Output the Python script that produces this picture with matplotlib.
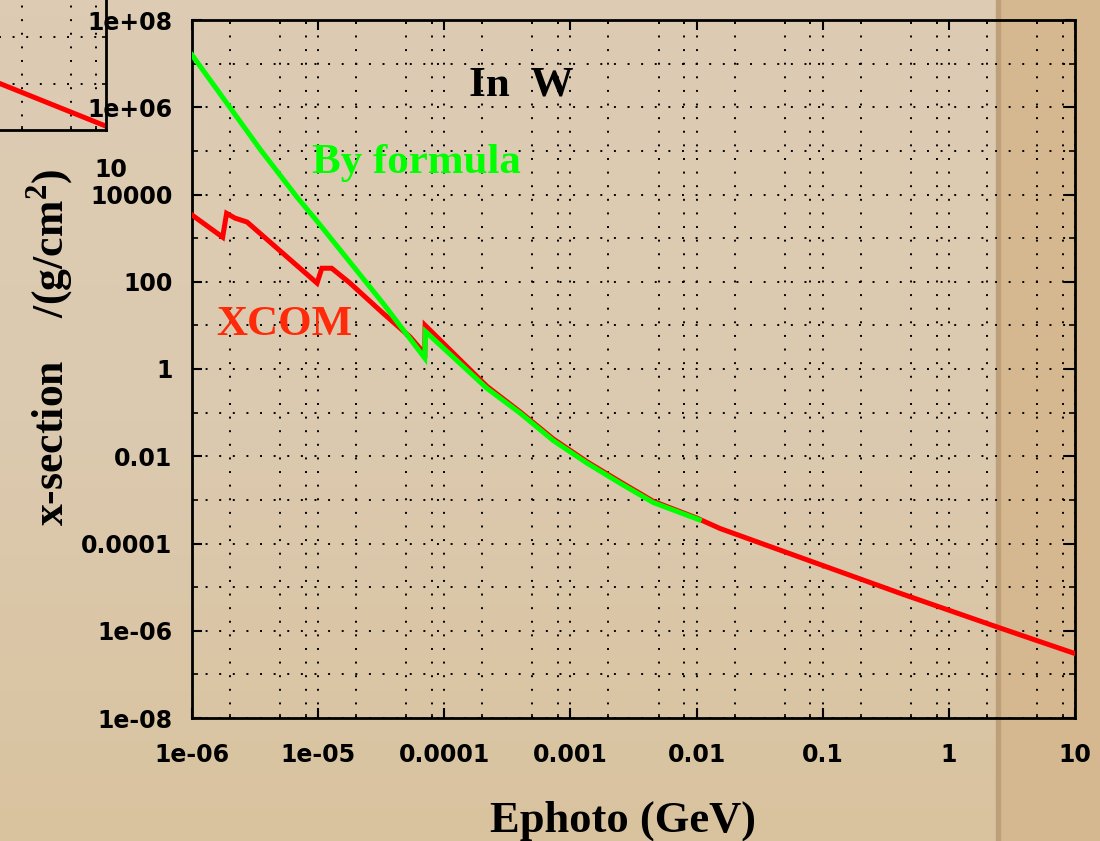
import numpy as np
import matplotlib.pyplot as plt
from matplotlib.patches import Rectangle
from matplotlib.colors import LinearSegmentedColormap
from matplotlib.ticker import FixedLocator, LogLocator, NullFormatter

plt.rcParams['mathtext.fontset'] = 'custom'
plt.rcParams['mathtext.bf'] = 'Liberation Serif:bold'
plt.rcParams['mathtext.rm'] = 'Liberation Serif:bold'

# XCOM photo-absorption cross-section in W (GeV, cm2/g)
xcom_e = [1.0e-6, 1.75e-6, 1.88e-6, 2.19e-6, 2.73e-6, 9.8e-6, 1.07e-5, 1.28e-5,
          1.79e-5, 3.27e-5, 5.37e-5, 6.8e-5, 7.0e-5, 7.05e-5, 2.18e-4, 3.98e-4,
          7.3e-4, 1.36e-3, 2.48e-3, 4.53e-3, 1.01e-2, 1.54e-2, 6.64e-2, 0.412,
          2.56, 10.0]
xcom_mu = [3390, 1050, 3700, 2880, 2340, 93, 204, 204,
           93, 19, 5.4, 2.45, 1.78, 10.0, 0.40, 0.105,
           0.025, 0.0074, 0.0026, 9.3e-4, 3.8e-4, 2.2e-4, 4.8e-5, 7.2e-6,
           1.15e-6, 3.0e-7]

# same thing from the formula
formula_e = [1.0e-6, 3.5e-6, 6.8e-6, 9.8e-6, 3.27e-5, 7.0e-5, 7.1e-5, 2.18e-4,
             3.98e-4, 7.3e-4, 1.36e-3, 2.48e-3, 4.53e-3, 1.05e-2]
formula_mu = [1.58e7, 1.05e5, 8700, 2450, 32, 1.78, 7.2, 0.36,
              0.098, 0.023, 0.0069, 0.0024, 8.7e-4, 3.5e-4]

xtick_vals = [1e-6, 1e-5, 1e-4, 1e-3, 1e-2, 1e-1, 1, 10]
xtick_labels = ["1e-06", "1e-05", "0.0001", "0.001", "0.01", "0.1", "1", "10"]
ytick_vals = [1e-8, 1e-6, 1e-4, 1e-2, 1, 1e2, 1e4, 1e6, 1e8]
ytick_labels = ["1e-08", "1e-06", "0.0001", "0.01", "1", "100", "10000", "1e+06", "1e+08"]
yminor_vals = [1e-7, 1e-5, 1e-3, 1e-1, 10, 1e3, 1e5, 1e7]

# leftover inset in the corner (its own data units)
inset_x = [0.36, 0.99]
inset_y = [0.31, 0.03]
inset_xgrid = [0.494, 0.789, 0.94]
inset_ygrid = [0.307, 0.62]

W, H = 1100, 841
fig = plt.figure(figsize=(11, 8.41), dpi=100)
fig.patch.set_facecolor('#dccbb1')

# paper background: slight shading toward the bottom, darker strip on the right
bg = fig.add_axes([0, 0, 1, 1], zorder=-5)
paper = LinearSegmentedColormap.from_list('paper', ['#d9c39f', '#dccab0', '#ddccb3'])
bg.imshow(np.linspace(0, 1, 50).reshape(-1, 1), aspect='auto', cmap=paper,
          origin='lower', extent=[0, 1, 0, 1])
bg.add_patch(Rectangle((1000 / W, 0), 100 / W, 1, color='#d5b890'))
bg.add_patch(Rectangle((996 / W, 0), 4 / W, 1, color='#bd9f79'))
bg.set_xlim(0, 1)
bg.set_ylim(0, 1)
bg.axis('off')

dotted = (0, (1, 6))
tickfont = dict(family='DejaVu Sans', weight='bold', size=17)
serif = dict(family='Liberation Serif', weight='bold')

ax = fig.add_axes([192 / W, 1 - 718 / H, 883 / W, 698 / H])
ax.set_facecolor('none')
ax.set_xscale('log')
ax.set_yscale('log')

ax.plot(xcom_e, xcom_mu, color='#ff0000', lw=3.6, solid_joinstyle='miter', zorder=3)
ax.plot(formula_e, formula_mu, color='#00ff00', lw=3.6, solid_joinstyle='miter', zorder=4)

ax.set_xlim(1e-6, 10)
ax.set_ylim(1e-8, 1e8)
ax.set_xticks(xtick_vals, labels=xtick_labels)
ax.set_yticks(ytick_vals, labels=ytick_labels)
ax.xaxis.set_minor_locator(LogLocator(base=10, subs=[2, 5, 8], numticks=20))
ax.xaxis.set_minor_formatter(NullFormatter())
ax.yaxis.set_minor_locator(FixedLocator(yminor_vals))
ax.yaxis.set_minor_formatter(NullFormatter())
for lab in ax.get_xticklabels() + ax.get_yticklabels():
    lab.set_fontproperties(tickfont)

ax.tick_params(which='major', direction='in', length=7, width=1.5,
               top=True, right=True, colors='black')
ax.tick_params(which='minor', direction='in', length=4, width=1.2,
               top=True, right=True)
ax.tick_params(axis='x', which='minor', length=3)
ax.tick_params(axis='x', which='major', pad=18)
ax.tick_params(axis='y', which='major', pad=14)
ax.grid(True, which='both', color='black', ls=dotted, lw=1.4)
for sp in ax.spines.values():
    sp.set_linewidth(2)
    sp.set_color('black')

fig.text(521 / W, 1 - 95 / H, "In  W", ha='center', va='baseline', fontsize=31, **serif)
fig.text(312 / W, 1 - 173 / H, "By formula", ha='left', va='baseline', fontsize=31,
         color='#00ff00', **serif)
fig.text(216 / W, 1 - 335 / H, "XCOM", ha='left', va='baseline', fontsize=31,
         color='#ff2a0a', **serif)
fig.text(50 / W, 1 - 347 / H, "x-section    /(g/cm$^{\\mathbf{2}}$)", rotation=90,
         ha='center', va='center', fontsize=31.5, **serif)
fig.text(623 / W, 1 - 832 / H, "Ephoto (GeV)", ha='center', va='baseline',
         fontsize=32, **serif)
fig.text(127 / W, 1 - 177 / H, "10", ha='right', va='baseline', **tickfont)

# partial inset box top-left
ins = fig.add_axes([-60 / W, 1 - 130 / H, 166 / W, 150 / H])
ins.set_facecolor('none')
ins.plot(inset_x, inset_y, color='#ff0000', lw=3.6)
ins.set_xlim(0, 1)
ins.set_ylim(0, 1)
ins.set_xticks(inset_xgrid)
ins.set_yticks(inset_ygrid)
ins.set_xticklabels([])
ins.set_yticklabels([])
ins.tick_params(direction='in', length=3, width=1.2, top=True, right=True)
ins.grid(True, color='black', ls=dotted, lw=1.4)
for sp in ins.spines.values():
    sp.set_linewidth(2)

fig.savefig("out.png", dpi=100, facecolor=fig.get_facecolor())
